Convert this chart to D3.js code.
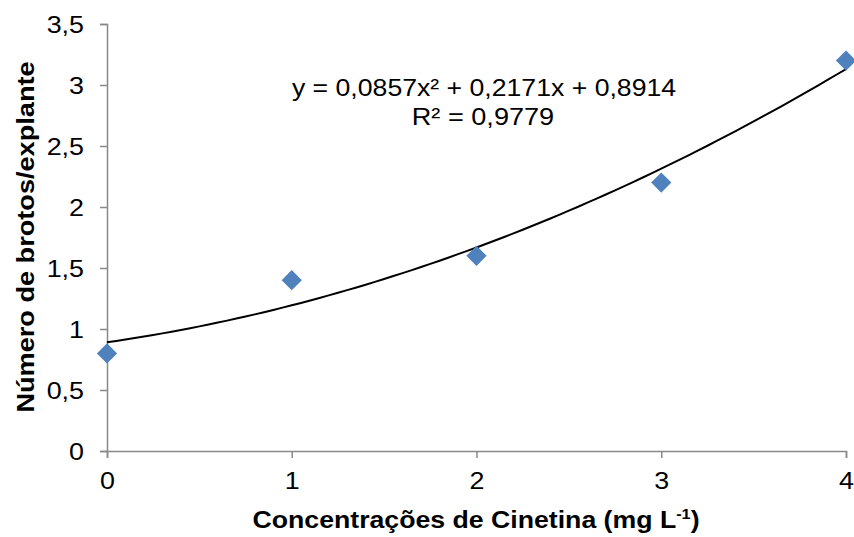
<!DOCTYPE html>
<html><head><meta charset="utf-8">
<script src="https://cdn.jsdelivr.net/npm/d3@7"></script>
<style>html,body{margin:0;padding:0;background:#fff;}svg{display:block;}</style>
</head><body>
<svg id="c" width="854" height="537"></svg>
<script>
const xValues = [0, 1, 2, 3, 4];
const yValues = [0.8, 1.4, 1.6, 2.2, 3.2];
const xTicks = [0, 1, 2, 3, 4];
const yTicks = [0, 0.5, 1, 1.5, 2, 2.5, 3, 3.5];
const trendCoeffs = [0.8914, 0.2171, 0.0857]; // c0 + c1 x + c2 x^2
const eqLine1 = "y = 0,0857x² + 0,2171x + 0,8914";
const eqLine2 = "R² = 0,9779";
const xTitle = "Concentrações de Cinetina (mg L";
const yTitle = "Número de brotos/explante";

const svg = d3.select("#c");
const L = 107, R = 846, T = 24, B = 451;
const x = d3.scaleLinear().domain([0, 4]).range([L, R]);
const y = d3.scaleLinear().domain([0, 3.5]).range([B, T]);
const fmt = d => String(d).replace(".", ",");
const font = "'Liberation Sans', Arial, sans-serif";
const axisColor = "#898989";
const sx = 1.12;

const xa = svg.append("g").attr("transform", `translate(0,${B})`)
  .call(d3.axisBottom(x).tickValues(xTicks).tickFormat(fmt).tickSizeOuter(0).tickSize(7).tickPadding(14));
const ya = svg.append("g").attr("transform", `translate(${L},0)`)
  .call(d3.axisLeft(y).tickValues(yTicks).tickFormat(fmt).tickSizeOuter(0).tickSize(7).tickPadding(16));
[xa, ya].forEach(a => {
  a.selectAll("path,line").attr("stroke", axisColor).attr("stroke-width", 1.5);
  a.selectAll("text").attr("font-family", font).attr("font-size", 24).attr("fill", "#000")
    .attr("transform", `scale(${sx},1)`);
});
ya.selectAll("text").attr("dy", "0.36em").attr("x", -23 / sx);

// trend line
const xs = d3.range(0, 4.0001, 0.05);
const poly = v => trendCoeffs.reduce((s, c, i) => s + c * Math.pow(v, i), 0);
svg.append("path")
  .attr("d", d3.line().x(d => x(d)).y(d => y(poly(d)))(xs))
  .attr("fill", "none").attr("stroke", "#000").attr("stroke-width", 2);

// markers
svg.append("g").selectAll("path").data(xValues.map((v, i) => [v, yValues[i]]))
  .join("path")
  .attr("transform", d => `translate(${x(d[0])},${y(d[1])})`)
  .attr("d", d3.symbol().type(d3.symbolDiamond2).size(260))
  .attr("fill", "#4F81BD");

// equation
svg.append("text").attr("font-family", font).attr("font-size", 24).attr("text-anchor", "middle")
  .attr("transform", "translate(484,96) scale(1.11,1)").text(eqLine1);
svg.append("text").attr("font-family", font).attr("font-size", 24).attr("text-anchor", "middle")
  .attr("transform", "translate(483,125) scale(1.13,1)").text(eqLine2);

// x title
const xt = svg.append("text").attr("font-family", font).attr("font-size", 23).attr("font-weight", "bold")
  .attr("text-anchor", "middle").attr("transform", "translate(476,528) scale(1.16,1)");
xt.append("tspan").text(xTitle);
xt.append("tspan").attr("font-size", 14).attr("dy", -9).text("-1");
xt.append("tspan").attr("dy", 9).text(")");

// y title
svg.append("text").attr("font-family", font).attr("font-size", 23).attr("font-weight", "bold")
  .attr("text-anchor", "middle").attr("transform", "translate(34,237) rotate(-90) scale(1.18,1)").text(yTitle);
</script>
</body></html>
